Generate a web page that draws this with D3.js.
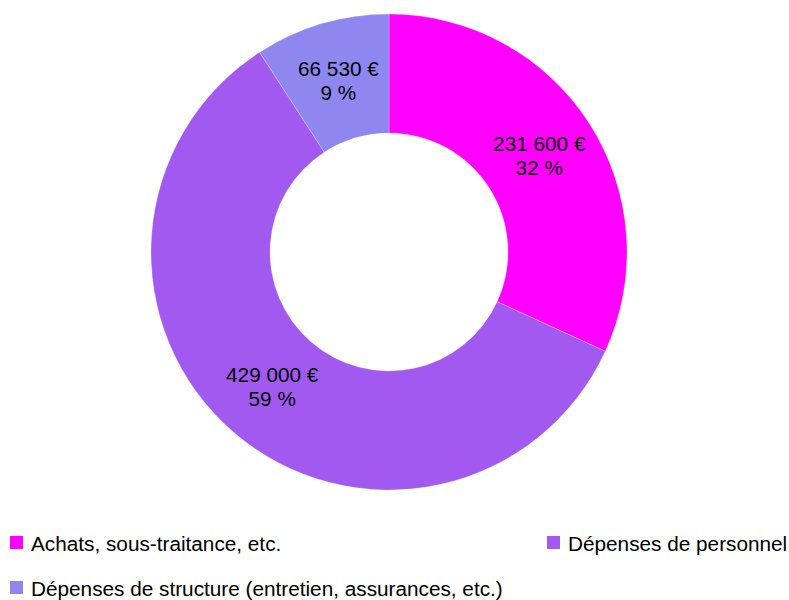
<!DOCTYPE html>
<html>
<head>
<meta charset="utf-8">
<script src="https://cdn.jsdelivr.net/npm/d3@7"></script>
<style>
  body { margin: 0; background: #fff; }
  svg text { font-family: "Liberation Sans", Arial, sans-serif; fill: #000; }
</style>
</head>
<body>
<svg class="svg-canvas" width="789" height="600"></svg>
<script>
// categories and values
var categories = ["Achats, sous-traitance, etc.", "Dépenses de personnel", "Dépenses de structure (entretien, assurances, etc.)"];
var amounts = [231600, 429000, 66530];
var colors = ["#ff00ff", "#a259f0", "#8f87f0"];

var w = 789, h = 600;
var cx = 389, cy = 252;
var outerR = 238, innerR = 119;
var fontSize = 20.75;

var svg = d3.select('.svg-canvas');

var total = d3.sum(amounts);
var data = categories.map(function(c, i){ return {name: c, value: amounts[i], color: colors[i]}; });

var pie = d3.pie().sort(null).value(function(d){ return d.value; });
var arc = d3.arc().innerRadius(innerR).outerRadius(outerR);

var fmt = function(v){
    // french style thousands separator
    return d3.format(",")(v).replace(/,/g, " ") + " €";
};

var g = svg.append('g').attr('transform', 'translate(' + cx + ',' + cy + ')');

var arcs = pie(data);

g.selectAll('path')
    .data(arcs)
    .enter()
    .append('path')
    .attr('d', arc)
    .attr('fill', function(d){ return d.data.color; })
    .attr('stroke', '#ffffff')
    .attr('stroke-opacity', 0.4)
    .attr('stroke-width', 0.6);

//value + percentage labels at the centroid
var labels = g.selectAll('text.slice-label')
    .data(arcs)
    .enter()
    .append('text')
    .classed('slice-label', true)
    .attr('text-anchor', 'middle')
    .attr('font-size', fontSize)
    .attr('transform', function(d){ var c = arc.centroid(d); return 'translate(' + c[0] + ',' + c[1] + ')'; });

labels.append('tspan')
    .attr('x', 0)
    .attr('y', -4.5)
    .text(function(d){ return fmt(d.data.value); });

labels.append('tspan')
    .attr('x', 0)
    .attr('y', 19.5)
    .text(function(d){ return Math.round(d.data.value / total * 100) + " %"; });

//legend, two columns
var legendPos = [{x: 10, y: 536}, {x: 547, y: 536}, {x: 10, y: 581}];
var legend = svg.append('g').classed('legend', true);

var items = legend.selectAll('g')
    .data(data)
    .enter()
    .append('g')
    .attr('transform', function(d, i){ return 'translate(' + legendPos[i].x + ',' + legendPos[i].y + ')'; });

items.append('rect')
    .attr('width', 13)
    .attr('height', 13)
    .attr('fill', function(d){ return d.color; });

items.append('text')
    .attr('x', 21)
    .attr('y', 14.5)
    .attr('font-size', fontSize)
    .text(function(d){ return d.name; });
</script>
</body>
</html>
